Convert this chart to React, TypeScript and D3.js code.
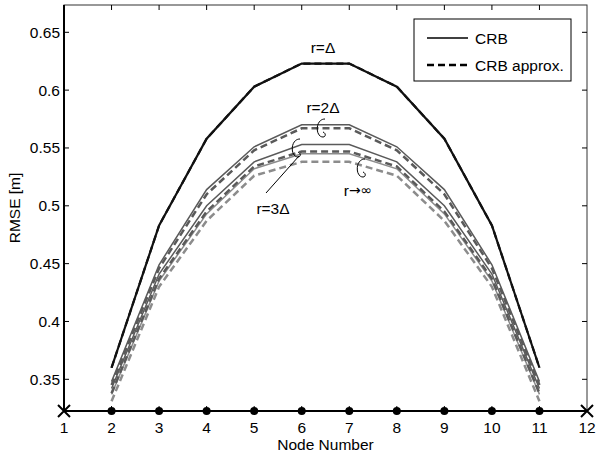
import React, { useEffect } from 'react';
import * as d3 from 'd3';

// node indices and tick labels
const nodes = [2, 3, 4, 5, 6, 7, 8, 9, 10, 11];
const xTicks = [1, 2, 3, 4, 5, 6, 7, 8, 9, 10, 11, 12];
const yTicks = [0.35, 0.4, 0.45, 0.5, 0.55, 0.6, 0.65];

// RMSE per node, CRB (solid) and CRB approx (dashed)
const crbR1 = [0.36, 0.483, 0.558, 0.603, 0.623, 0.623, 0.603, 0.558, 0.483, 0.36];
const apxR1 = [0.36, 0.483, 0.558, 0.603, 0.623, 0.623, 0.603, 0.558, 0.483, 0.36];
const crbR2 = [0.348, 0.449, 0.514, 0.551, 0.57, 0.57, 0.551, 0.514, 0.449, 0.348];
const apxR2 = [0.345, 0.446, 0.51, 0.548, 0.567, 0.567, 0.548, 0.51, 0.446, 0.345];
const crbR3 = [0.342, 0.441, 0.5, 0.538, 0.553, 0.553, 0.538, 0.5, 0.441, 0.342];
const apxR3 = [0.338, 0.437, 0.495, 0.534, 0.547, 0.547, 0.534, 0.495, 0.437, 0.338];
const crbInf = [0.337, 0.435, 0.493, 0.532, 0.545, 0.545, 0.532, 0.493, 0.435, 0.337];
const apxInf = [0.331, 0.43, 0.487, 0.526, 0.538, 0.538, 0.526, 0.487, 0.43, 0.331];

const W = 596;
const H = 456;
const left = 64, right = 587, top = 5, bottom = 411;
const font = '"Liberation Sans", Arial, sans-serif';

const x = d3.scaleLinear().domain([1, 12]).range([left, right]);
const y = d3.scaleLinear().domain([0.3226, 0.6736]).range([bottom, top]);

const line = d3
  .line<number>()
  .x((d, i) => x(nodes[i]))
  .y((d) => y(d));

const series = [
  { data: crbInf, color: '#8c8c8c', width: 1.5, dash: null },
  { data: apxInf, color: '#8c8c8c', width: 2.5, dash: '7,4' },
  { data: crbR3, color: '#5a5a5a', width: 1.5, dash: null },
  { data: apxR3, color: '#5a5a5a', width: 2.5, dash: '7,4' },
  { data: crbR2, color: '#5a5a5a', width: 1.5, dash: null },
  { data: apxR2, color: '#5a5a5a', width: 2.5, dash: '7,4' },
  { data: crbR1, color: '#111', width: 2.2, dash: null },
  { data: apxR1, color: '#111', width: 2.2, dash: '7,4' },
];

// little curl marks that tie a label to its pair of curves
function curl(cx: number, cy: number, h: number) {
  return `M${cx + 4},${cy - h} C${cx - 6},${cy - h} ${cx - 6},${cy + h} ${cx + 2},${cy + h} C${cx + 5},${cy + h} ${cx + 5},${cy + h - 4} ${cx + 2},${cy + h - 5}`;
}

export default function App() {
  useEffect(() => {
    document.body.style.margin = '0';
  }, []);

  return (
    <svg width={W} height={H} style={{ display: 'block', background: '#fff' }} fontFamily={font}>
      {/* frame */}
      <rect x={left} y={top} width={right - left} height={bottom - top} fill="none" stroke="#333" strokeWidth={1} />
      <line x1={left} x2={left} y1={top} y2={bottom} stroke="#000" strokeWidth={2} />

      {/* y ticks, both sides */}
      {yTicks.map((t) => (
        <g key={t}>
          <line x1={left} x2={left + 5} y1={y(t)} y2={y(t)} stroke="#000" />
          <line x1={right - 5} x2={right} y1={y(t)} y2={y(t)} stroke="#000" />
          <text x={left - 4} y={y(t)} textAnchor="end" dominantBaseline="central" fontSize={15.5} fill="#000">
            {+t.toFixed(2)}
          </text>
        </g>
      ))}

      {/* x ticks top and bottom */}
      {xTicks.slice(1, -1).map((t) => (
        <g key={t}>
          <line x1={x(t)} x2={x(t)} y1={top} y2={top + 5} stroke="#000" />
          <line x1={x(t)} x2={x(t)} y1={bottom} y2={bottom - 5} stroke="#000" />
        </g>
      ))}

      {/* curves */}
      {series.map((s, i) => (
        <path
          key={i}
          d={line(s.data) || ''}
          fill="none"
          stroke={s.color}
          strokeWidth={s.width}
          strokeDasharray={s.dash || undefined}
        />
      ))}

      {/* bottom axis with node markers */}
      <line x1={left} x2={right} y1={bottom} y2={bottom} stroke="#000" strokeWidth={2} />
      {nodes.map((n) => (
        <circle key={n} cx={x(n)} cy={bottom} r={4} fill="#000" />
      ))}
      {[1, 12].map((n) => (
        <path
          key={n}
          d={`M${x(n) - 6},${bottom - 6}L${x(n) + 6},${bottom + 6}M${x(n) - 6},${bottom + 6}L${x(n) + 6},${bottom - 6}`}
          stroke="#000"
          strokeWidth={2}
        />
      ))}
      {xTicks.map((t) => (
        <text key={t} x={x(t)} y={427} textAnchor="middle" dominantBaseline="central" fontSize={15.5} fill="#000">
          {t}
        </text>
      ))}
      <text x={(left + right) / 2} y={444} textAnchor="middle" dominantBaseline="central" fontSize={15.5}>
        Node Number
      </text>
      <text
        transform={`translate(14,${(top + bottom) / 2}) rotate(-90)`}
        textAnchor="middle"
        dominantBaseline="central"
        fontSize={15.5}
      >
        RMSE [m]
      </text>

      {/* annotations */}
      <text x={323} y={47} textAnchor="middle" dominantBaseline="central" fontSize={15.5}>r=Δ</text>
      <text x={323} y={107} textAnchor="middle" dominantBaseline="central" fontSize={15.5}>r=2Δ</text>
      <text x={273} y={208} textAnchor="middle" dominantBaseline="central" fontSize={15.5}>r=3Δ</text>
      <text x={358} y={190} textAnchor="middle" dominantBaseline="central" fontSize={15.5}>
        r<tspan fontFamily='"DejaVu Sans", sans-serif' fontSize={14}>→∞</tspan>
      </text>
      <path d={curl(321, 128, 9)} fill="none" stroke="#000" strokeWidth={1} />
      <path d={curl(296, 148, 9)} fill="none" stroke="#000" strokeWidth={1} />
      <path d={curl(361, 168, 9)} fill="none" stroke="#000" strokeWidth={1} />
      <line x1={299} y1={156} x2={266} y2={193} stroke="#000" strokeWidth={1} />

      {/* legend */}
      <rect x={414} y={19} width={157} height={62} fill="#fff" stroke="#000" strokeWidth={1} />
      <line x1={427} x2={468} y1={38} y2={38} stroke="#000" strokeWidth={1.5} />
      <line x1={427} x2={468} y1={65} y2={65} stroke="#000" strokeWidth={2.5} strokeDasharray="7,4" />
      <text x={475} y={38} dominantBaseline="central" fontSize={15.5}>CRB</text>
      <text x={475} y={65} dominantBaseline="central" fontSize={15.5}>CRB approx.</text>
    </svg>
  );
}
